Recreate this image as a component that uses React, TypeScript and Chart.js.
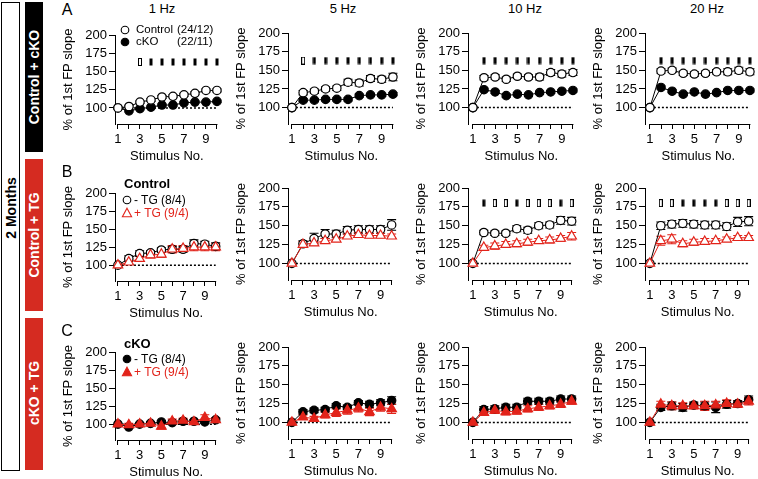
import React, { useEffect, useRef } from 'react';
import { Chart, registerables } from 'chart.js';

Chart.register(...registerables);

const FONT = "'Liberation Sans', Arial, Helvetica, sans-serif";
const BLACK = '#000000';
const RED = '#e2231a';

// ---------- shared axis data ----------
const stimulus = [1, 2, 3, 4, 5, 6, 7, 8, 9, 10];
const xTickLabels = ['1', '', '3', '', '5', '', '7', '', '9', ''];
const yTicks = [100, 125, 150, 175, 200];
const baselineX = [1, 10];
const baselineValue = 100;

// ---------- Row A: Control vs cKO ----------
const a1Control = [100, 102, 108, 111, 115, 116, 118, 120, 124, 124];
const a1ControlErr = [0, 1.5, 1.5, 2, 2, 2, 2, 2, 2, 2];
const a1CKO = [100, 96, 99, 101, 104, 104, 107, 108, 108, 109];
const a1CKOErr = [0, 1.5, 1.5, 1.5, 1.5, 1.5, 1.5, 1.5, 1.5, 1.5];
const a1Sig = ['', '', 'o', 'f', 'f', 'f', 'f', 'f', 'f', 'f'];

const a5Control = [100, 120, 122, 125, 126, 134, 133, 139, 138, 141];
const a5ControlErr = [0, 3, 3, 3, 3, 4, 4, 4, 4, 5];
const a5CKO = [100, 110, 110, 111, 111, 111, 116, 117, 117, 118];
const a5CKOErr = [0, 2, 2, 2, 2, 2, 2, 2, 2, 2];
const a5Sig = ['', 'o', 'f', 'f', 'f', 'f', 'f', 'f', 'f', 'f'];

const a10Control = [100, 140, 141, 138, 142, 141, 141, 147, 145, 147];
const a10ControlErr = [0, 3, 3, 3, 3, 3, 4, 4, 4, 4];
const a10CKO = [100, 124, 121, 116, 118, 117, 120, 121, 122, 123];
const a10CKOErr = [0, 2, 2, 2, 2, 2, 2, 2, 2, 2];
const a10Sig = ['', 'f', 'f', 'f', 'f', 'f', 'f', 'f', 'f', 'f'];

const a20Control = [100, 149, 150, 146, 145, 146, 148, 148, 150, 148];
const a20ControlErr = [0, 3, 3, 3, 3, 3, 3, 4, 4, 4];
const a20CKO = [100, 127, 122, 118, 121, 118, 120, 123, 123, 123];
const a20CKOErr = [0, 2, 2, 2, 2, 2, 2, 2, 2, 2];
const a20Sig = ['', 'f', 'f', 'f', 'f', 'f', 'f', 'f', 'f', 'f'];

const sigLevelA = 163;

// ---------- Row B: Control -TG vs +TG ----------
const b1Minus = [100, 109, 116, 117, 121, 122, 122, 130, 129, 126];
const b1MinusErr = [0, 4, 4, 3, 3, 4, 4, 5, 4, 5];
const b1Plus = [100, 104, 109, 114, 115, 122, 123, 125, 125, 125];
const b1PlusErr = [0, 3, 4, 4, 4, 5, 4, 5, 5, 5];

const b5Minus = [100, 126, 133, 139, 139, 144, 145, 145, 145, 151];
const b5MinusErr = [0, 4, 7, 6, 5, 5, 5, 5, 5, 7];
const b5Plus = [100, 125, 127, 130, 132, 136, 138, 137, 137, 136];
const b5PlusErr = [0, 4, 3, 3, 3, 3, 3, 3, 3, 3];

const b10Minus = [100, 141, 140, 140, 146, 144, 150, 151, 157, 156];
const b10MinusErr = [0, 3, 3, 3, 4, 4, 4, 4, 5, 5];
const b10Plus = [100, 121, 123, 125, 126, 128, 130, 131, 133, 136];
const b10PlusErr = [0, 3, 4, 4, 4, 4, 3, 4, 4, 5];
const b10Sig = ['', 'f', 'o', 'o', 'f', 'o', 'o', 'o', 'f', 'o'];

const b20Minus = [100, 150, 152, 153, 152, 151, 151, 149, 155, 156];
const b20MinusErr = [0, 5, 5, 5, 5, 5, 5, 5, 6, 6];
const b20Plus = [100, 130, 132, 126, 128, 129, 130, 132, 134, 134];
const b20PlusErr = [0, 6, 6, 4, 4, 4, 3, 3, 3, 3];
const b20Sig = ['', 'o', 'o', 'f', 'f', 'f', 'f', 'o', 'o', 'o'];

const sigLevelB = 180;

// ---------- Row C: cKO -TG vs +TG ----------
const c1Minus = [100, 96, 100, 101, 103, 102, 104, 104, 103, 106];
const c1MinusErr = [0, 2, 2, 2, 2, 2, 2, 2, 2, 2];
const c1Plus = [100, 99, 100, 101, 97, 104, 105, 103, 109, 106];
const c1PlusErr = [0, 2, 2, 2, 4, 3, 3, 3, 4, 3];

const c5Minus = [100, 114, 116, 117, 122, 120, 126, 124, 126, 129];
const c5MinusErr = [0, 3, 3, 3, 3, 3, 3, 4, 4, 5];
const c5Plus = [100, 107, 105, 110, 113, 116, 119, 114, 120, 118];
const c5PlusErr = [0, 3, 3, 4, 5, 5, 5, 5, 5, 6];

const c10Minus = [100, 117, 118, 120, 120, 128, 128, 128, 131, 131];
const c10MinusErr = [0, 4, 4, 4, 4, 4, 4, 4, 4, 4];
const c10Plus = [100, 113, 116, 114, 115, 118, 120, 122, 124, 128];
const c10PlusErr = [0, 3, 4, 4, 4, 4, 4, 4, 4, 4];

const c20Minus = [100, 120, 122, 120, 123, 122, 120, 124, 125, 130];
const c20MinusErr = [0, 4, 5, 5, 4, 5, 7, 5, 4, 5];
const c20Plus = [100, 124, 122, 122, 122, 122, 123, 125, 124, 128];
const c20PlusErr = [0, 4, 5, 4, 4, 6, 5, 5, 4, 5];

// ---------- layout ----------
const Y_MIN = 78;
const Y_MAX = 200;
const X_MAX = 10.15;
const YW = 54; // y axis box width
const XH = 40; // x axis box height
const PAD_TOP = 10;
const PAD_RIGHT = 4;

const colGeom = [
  { axisX: 115, unitX: 11.1, xMin: 0.73 },
  { axisX: 288, unitX: 11.4, xMin: 0.65 },
  { axisX: 468, unitX: 11.3, xMin: 0.56 },
  { axisX: 645, unitX: 11.25, xMin: 0.56 },
];
const rowGeom = [
  { first: { y200: 35, ppu: 0.73 }, other: { y200: 32.5, ppu: 0.745 } },
  { first: { y200: 193, ppu: 0.72 }, other: { y200: 188, ppu: 0.75 } },
  { first: { y200: 352, ppu: 0.72 }, other: { y200: 347, ppu: 0.75 } },
];

type SeriesDef = {
  values: number[];
  errors: number[];
  color: string;
  filled: boolean;
  shape: 'circle' | 'triangle';
  layer: number;
};

function makeMarker(filled: boolean): HTMLCanvasElement {
  const c = document.createElement('canvas');
  c.width = 4;
  c.height = 8;
  const g = c.getContext('2d')!;
  if (filled) {
    g.fillStyle = BLACK;
    g.fillRect(0.5, 0.5, 3, 7);
  } else {
    g.fillStyle = '#fff';
    g.fillRect(0, 0, 4, 8);
    g.strokeStyle = BLACK;
    g.lineWidth = 1;
    g.strokeRect(0.5, 0.5, 3, 7);
  }
  return c;
}

const errorBarPlugin = {
  id: 'errorBars',
  beforeDatasetsDraw(chart: any) {
    const { ctx } = chart;
    const xs = chart.scales.x;
    const ys = chart.scales.y;
    chart.data.datasets.forEach((ds: any) => {
      if (!ds.errors) return;
      ctx.save();
      ctx.strokeStyle = ds.borderColor;
      ctx.lineWidth = 1.1;
      ds.data.forEach((p: any, j: number) => {
        const e = ds.errors[j];
        if (!e) return;
        const px = xs.getPixelForValue(p.x);
        const t = ys.getPixelForValue(p.y + e);
        const b = ys.getPixelForValue(p.y - e);
        ctx.beginPath();
        ctx.moveTo(px, t);
        ctx.lineTo(px, b);
        ctx.moveTo(px - 4.5, t);
        ctx.lineTo(px + 4.5, t);
        ctx.moveTo(px - 4.5, b);
        ctx.lineTo(px + 4.5, b);
        ctx.stroke();
      });
      ctx.restore();
    });
  },
};

const xAxisLinePlugin = {
  id: 'xAxisLine',
  afterDraw(chart: any) {
    const { ctx, chartArea } = chart;
    const xs = chart.scales.x;
    const y = Math.round(chartArea.bottom) + 0.5;
    ctx.save();
    ctx.strokeStyle = BLACK;
    ctx.lineWidth = 1;
    ctx.beginPath();
    ctx.moveTo(xs.getPixelForValue(stimulus[0]) - 0.5, y);
    ctx.lineTo(xs.getPixelForValue(stimulus[stimulus.length - 1]) + 0.5, y);
    ctx.stroke();
    ctx.restore();
  },
};

function Panel(props: { row: number; col: number; series: SeriesDef[]; sig?: string[]; sigLevel?: number }) {
  const { row, col, series, sig, sigLevel } = props;
  const ref = useRef<HTMLCanvasElement>(null);
  const cg = colGeom[col];
  const rg = col === 0 ? rowGeom[row].first : rowGeom[row].other;
  const chartW = (X_MAX - cg.xMin) * cg.unitX;
  const chartH = (Y_MAX - Y_MIN) * rg.ppu;
  const left = cg.axisX - YW;
  const top = rg.y200 - PAD_TOP;
  const width = Math.round(YW + chartW + PAD_RIGHT);
  const height = Math.round(PAD_TOP + chartH + XH);

  useEffect(() => {
    const font = { family: FONT, size: 13 };
    const datasets: any[] = [];
    if (sig && sigLevel !== undefined) {
      const pts: any[] = [];
      const styles: any[] = [];
      stimulus.forEach((s, i) => {
        if (sig[i]) {
          pts.push({ x: s, y: sigLevel });
          styles.push(makeMarker(sig[i] === 'f'));
        }
      });
      datasets.push({
        data: pts,
        showLine: false,
        pointStyle: styles,
        pointRadius: 4,
        order: 0,
        clip: false,
      });
    }
    series.forEach((s) => {
      datasets.push({
        data: stimulus.map((x, i) => ({ x, y: s.values[i] })),
        errors: s.errors,
        borderColor: s.color,
        borderWidth: 1,
        pointBackgroundColor: s.filled ? s.color : '#ffffff',
        pointBorderColor: s.color,
        pointBorderWidth: 1.2,
        pointStyle: s.shape,
        pointRadius: s.shape === 'triangle' ? 5.5 : 4.2,
        order: s.layer,
        clip: false,
        tension: 0,
      });
    });
    datasets.push({
      data: baselineX.map((x) => ({ x, y: baselineValue })),
      borderColor: BLACK,
      borderWidth: 1.5,
      borderDash: [2, 2],
      pointRadius: 0,
      order: 20,
      clip: false,
    });

    const chart = new Chart(ref.current!, {
      type: 'line',
      data: { datasets },
      plugins: [errorBarPlugin, xAxisLinePlugin],
      options: {
        animation: false,
        responsive: false,
        devicePixelRatio: 1,
        layout: { padding: { top: PAD_TOP, right: PAD_RIGHT, left: 0, bottom: 0 } },
        plugins: { legend: { display: false }, tooltip: { enabled: false } },
        scales: {
          x: {
            type: 'linear',
            min: cg.xMin,
            max: X_MAX,
            afterBuildTicks: (s: any) => {
              s.ticks = stimulus.map((v) => ({ value: v }));
            },
            ticks: {
              autoSkip: false,
              maxRotation: 0,
              padding: 3,
              color: BLACK,
              font,
              callback: (v: any) => xTickLabels[stimulus.indexOf(Number(v))] ?? '',
            },
            grid: { display: true, drawOnChartArea: false, drawTicks: true, tickLength: 5, color: BLACK, tickColor: BLACK },
            border: { display: false },
            title: { display: true, text: 'Stimulus No.', color: BLACK, font, padding: 0 },
            afterFit: (s: any) => {
              s.height = XH;
              s.paddingLeft = 0;
              s.paddingRight = 0;
            },
          },
          y: {
            type: 'linear',
            min: Y_MIN,
            max: Y_MAX,
            afterBuildTicks: (s: any) => {
              s.ticks = yTicks.map((v) => ({ value: v }));
            },
            ticks: { padding: 2, color: BLACK, font },
            grid: { display: true, drawOnChartArea: false, drawTicks: true, tickLength: 6, color: BLACK, tickColor: BLACK },
            border: { display: true, color: BLACK, width: 1 },
            title: { display: true, text: '% of 1st FP slope', color: BLACK, font, padding: 0 },
            afterFit: (s: any) => {
              s.width = YW;
              s.paddingTop = 0;
              s.paddingBottom = 0;
            },
          },
        },
      } as any,
    });
    return () => chart.destroy();
  }, []);

  return (
    <canvas
      ref={ref}
      width={width}
      height={height}
      style={{ position: 'absolute', left, top, width, height }}
    />
  );
}

function Txt(props: { x: number; y: number; text: string; size?: number; bold?: boolean; color?: string; anchor?: 'left' | 'center' }) {
  const { x, y, text, size = 12, bold = false, color = BLACK, anchor = 'left' } = props;
  return (
    <div
      style={{
        position: 'absolute',
        left: x,
        top: y,
        transform: anchor === 'center' ? 'translate(-50%, -50%)' : 'translate(0, -50%)',
        fontFamily: FONT,
        fontSize: size,
        fontWeight: bold ? 'bold' : 'normal',
        color,
        whiteSpace: 'pre',
        lineHeight: 1,
        zIndex: 5,
      }}
    >
      {text}
    </div>
  );
}

function Sym(props: { x: number; y: number; kind: 'openCircle' | 'fillCircle' | 'openTri' | 'fillTri'; color: string }) {
  const { x, y, kind, color } = props;
  const fill = kind === 'fillCircle' || kind === 'fillTri' ? color : '#fff';
  return (
    <svg width={12} height={12} style={{ position: 'absolute', left: x - 6, top: y - 6, zIndex: 5 }}>
      {kind === 'openCircle' || kind === 'fillCircle' ? (
        <circle cx={6} cy={6} r={3.8} fill={fill} stroke={color} strokeWidth={1.1} />
      ) : (
        <polygon points="6,1.2 10.6,9.8 1.4,9.8" fill={fill} stroke={color} strokeWidth={1.1} />
      )}
    </svg>
  );
}

function SideBar(props: { x: number; y: number; w: number; h: number; bg: string; text: string; textColor: string; textY: number; border?: boolean }) {
  const { x, y, w, h, bg, text, textColor, textY, border } = props;
  return (
    <>
      <div
        style={{
          position: 'absolute',
          left: x,
          top: y,
          width: w,
          height: h,
          background: bg,
          border: border ? '1px solid #000' : 'none',
          boxSizing: 'border-box',
        }}
      />
      <div
        style={{
          position: 'absolute',
          left: x + w / 2,
          top: textY,
          transform: 'translate(-50%, -50%) rotate(-90deg)',
          fontFamily: FONT,
          fontSize: 14,
          fontWeight: 'bold',
          color: textColor,
          whiteSpace: 'nowrap',
          lineHeight: 1,
        }}
      >
        {text}
      </div>
    </>
  );
}

export default function App() {
  const ctrl = (v: number[], e: number[]): SeriesDef => ({ values: v, errors: e, color: BLACK, filled: false, shape: 'circle', layer: 1 });
  const cko = (v: number[], e: number[]): SeriesDef => ({ values: v, errors: e, color: BLACK, filled: true, shape: 'circle', layer: 2 });
  const redOpen = (v: number[], e: number[]): SeriesDef => ({ values: v, errors: e, color: RED, filled: false, shape: 'triangle', layer: 1 });
  const blackFill = (v: number[], e: number[]): SeriesDef => ({ values: v, errors: e, color: BLACK, filled: true, shape: 'circle', layer: 2 });
  const redFill = (v: number[], e: number[]): SeriesDef => ({ values: v, errors: e, color: RED, filled: true, shape: 'triangle', layer: 1 });
  const blackOpen = (v: number[], e: number[]): SeriesDef => ({ values: v, errors: e, color: BLACK, filled: false, shape: 'circle', layer: 2 });

  return (
    <div style={{ position: 'fixed', left: 0, top: 0, width: 758, height: 479, overflow: 'hidden', background: '#fff' }}>
      <SideBar x={1} y={2} w={19} h={469} bg="#fff" text="2 Months" textColor={BLACK} textY={208} border />
      <SideBar x={25} y={2} w={18} h={150} bg="#000" text="Control + cKO" textColor="#fff" textY={77} />
      <SideBar x={25} y={159} w={18} h={152} bg="#d52b21" text="Control + TG" textColor="#fff" textY={235} />
      <SideBar x={25} y={318} w={18} h={152} bg="#d52b21" text="cKO + TG" textColor="#fff" textY={393} />

      <Txt x={67} y={10} text="A" size={16} anchor="center" />
      <Txt x={67} y={172} text="B" size={16} anchor="center" />
      <Txt x={67} y={331} text="C" size={16} anchor="center" />

      <Txt x={162} y={8} text="1 Hz" size={13} anchor="center" />
      <Txt x={343} y={8} text="5 Hz" size={13} anchor="center" />
      <Txt x={525} y={8} text="10 Hz" size={13} anchor="center" />
      <Txt x={707} y={8} text="20 Hz" size={13} anchor="center" />

      <Panel row={0} col={0} series={[ctrl(a1Control, a1ControlErr), cko(a1CKO, a1CKOErr)]} sig={a1Sig} sigLevel={sigLevelA} />
      <Panel row={0} col={1} series={[ctrl(a5Control, a5ControlErr), cko(a5CKO, a5CKOErr)]} sig={a5Sig} sigLevel={sigLevelA} />
      <Panel row={0} col={2} series={[ctrl(a10Control, a10ControlErr), cko(a10CKO, a10CKOErr)]} sig={a10Sig} sigLevel={sigLevelA} />
      <Panel row={0} col={3} series={[ctrl(a20Control, a20ControlErr), cko(a20CKO, a20CKOErr)]} sig={a20Sig} sigLevel={sigLevelA} />

      <Panel row={1} col={0} series={[blackOpen(b1Minus, b1MinusErr), redOpen(b1Plus, b1PlusErr)]} />
      <Panel row={1} col={1} series={[blackOpen(b5Minus, b5MinusErr), redOpen(b5Plus, b5PlusErr)]} />
      <Panel row={1} col={2} series={[blackOpen(b10Minus, b10MinusErr), redOpen(b10Plus, b10PlusErr)]} sig={b10Sig} sigLevel={sigLevelB} />
      <Panel row={1} col={3} series={[blackOpen(b20Minus, b20MinusErr), redOpen(b20Plus, b20PlusErr)]} sig={b20Sig} sigLevel={sigLevelB} />

      <Panel row={2} col={0} series={[blackFill(c1Minus, c1MinusErr), redFill(c1Plus, c1PlusErr)]} />
      <Panel row={2} col={1} series={[blackFill(c5Minus, c5MinusErr), redFill(c5Plus, c5PlusErr)]} />
      <Panel row={2} col={2} series={[blackFill(c10Minus, c10MinusErr), redFill(c10Plus, c10PlusErr)]} />
      <Panel row={2} col={3} series={[blackFill(c20Minus, c20MinusErr), redFill(c20Plus, c20PlusErr)]} />

      {/* Legend A */}
      <Sym x={125} y={30} kind="openCircle" color={BLACK} />
      <Txt x={136} y={30} text="Control" size={11.5} />
      <Txt x={177} y={30} text="(24/12)" size={11.5} />
      <Sym x={125} y={42} kind="fillCircle" color={BLACK} />
      <Txt x={136} y={42} text="cKO" size={11.5} />
      <Txt x={177} y={42} text="(22/11)" size={11.5} />

      {/* Legend B */}
      <Txt x={124} y={183} text="Control" size={13} bold />
      <Sym x={127} y={200} kind="openCircle" color={BLACK} />
      <Txt x={134} y={200} text="- TG (8/4)" size={12} />
      <Sym x={127} y={213} kind="openTri" color={RED} />
      <Txt x={134} y={213} text="+ TG (9/4)" size={12} color={RED} />

      {/* Legend C */}
      <Txt x={124} y={343} text="cKO" size={13} bold />
      <Sym x={127} y={359} kind="fillCircle" color={BLACK} />
      <Txt x={134} y={359} text="- TG (8/4)" size={12} />
      <Sym x={127} y={372} kind="fillTri" color={RED} />
      <Txt x={134} y={372} text="+ TG (9/4)" size={12} color={RED} />
    </div>
  );
}
